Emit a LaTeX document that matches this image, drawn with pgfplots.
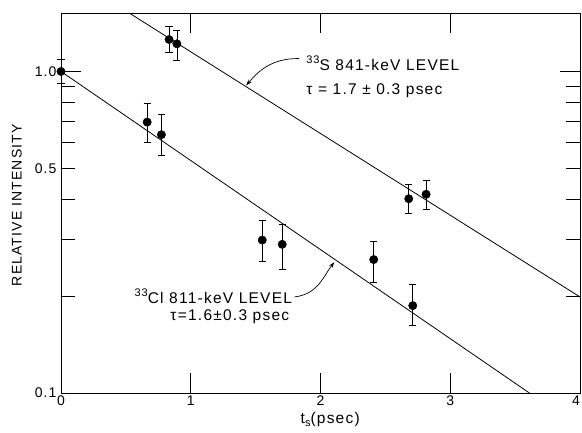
\documentclass[border=0pt]{standalone}
\usepackage{pgfplots}
\pgfplotsset{compat=1.18}
\usepackage{fontspec}
\setmainfont{Liberation Sans}[LetterSpace=8]
\usetikzlibrary{arrows.meta}
\newcommand\lbl{\fontsize{14bp}{16bp}\selectfont}
\newcommand\ann{\fontsize{15.5bp}{17bp}\selectfont}
\newcommand\supsz{\fontsize{11bp}{12bp}\selectfont}
\begin{document}
\begin{tikzpicture}
\begin{axis}[
  width=519bp, height=380bp, scale only axis,
  xmin=0, xmax=4, ymin=0.1, ymax=1.52, ymode=log,
  xtick={0,1,2,3,4}, xticklabels={0,1,2,3,{\makebox[0pt][r]{4}}},
  ytick={0.1,1}, yticklabels={0.1,1.0},
  extra y ticks={0.5}, extra y tick labels={0.5},
  extra y tick style={major tick length=14bp},
  minor ytick={0.2,0.3,0.4,0.6,0.7,0.8,0.9},
  minor tick length=14bp, major tick length=20bp,
  tick align=inside,
  tick style={black, line width=0.8pt},
  axis line style={line width=1pt},
  /pgf/number format/assume math mode=true,
  tick label style={font=\lbl},
  yticklabel style={xshift=-1bp},
  xticklabel style={yshift=1bp},
  clip=false,
]
\coordinate (sw) at (rel axis cs:0,0);
\coordinate (ne) at (rel axis cs:1,1);
% fitted lines
\addplot[black, line width=0.8pt] coordinates {(0.532,1.514) (4,0.199)};
\addplot[black, line width=0.8pt] coordinates {(0,1.0) (3.61,0.1)};
% 33S data
\addplot[only marks, mark=*, mark size=4.2bp, black,
  error bars/.cd, y dir=both, y explicit,
  error bar style={line width=0.7pt},
  error mark options={rotate=90, mark size=3.6bp, line width=0.7pt}]
coordinates {
 (0.833,1.257) += (0,0.125) -= (0,0.114)
 (0.893,1.219) += (0,0.128) -= (0,0.137)
 (2.68,0.402) += (0,0.043) -= (0,0.039)
 (2.814,0.415) += (0,0.044) -= (0,0.043)
};
% 33Cl data
\addplot[only marks, mark=*, mark size=4.2bp, black,
  error bars/.cd, y dir=both, y explicit,
  error bar style={line width=0.7pt},
  error mark options={rotate=90, mark size=3.6bp, line width=0.7pt}]
coordinates {
 (0,1.0) += (0,0.087) -= (0,0.082)
 (0.664,0.696) += (0,0.098) -= (0,0.093)
 (0.774,0.636) += (0,0.098) -= (0,0.088)
 (1.551,0.299) += (0,0.046) -= (0,0.043)
 (1.705,0.290) += (0,0.045) -= (0,0.047)
 (2.41,0.260) += (0,0.037) -= (0,0.039)
 (2.711,0.187) += (0,0.030) -= (0,0.025)
};
% annotations
\node[anchor=base west, inner sep=0pt, font=\ann] at (axis cs:1.89,1.007) {\raisebox{6.5bp}{\supsz 33}S 841-keV LEVEL};
\node[anchor=base west, inner sep=0pt, font=\ann] at (axis cs:1.89,0.848) {τ = 1.7 ± 0.3 psec};
\draw[line width=0.7pt, -{Stealth[length=6bp,width=4bp]}] (axis cs:1.836,1.097) .. controls (axis cs:1.62,1.10) and (axis cs:1.52,1.0) .. (axis cs:1.427,0.905);
\node[anchor=base east, inner sep=0pt, font=\ann] at (axis cs:1.782,0.19) {\raisebox{6.5bp}{\supsz 33}Cl 811-keV LEVEL};
\node[anchor=base east, inner sep=0pt, font=\ann] at (axis cs:1.76,0.1686) {τ=1.6±0.3 psec};
\draw[line width=0.7pt, -{Stealth[length=6bp,width=4bp]}] (axis cs:1.80,0.199) .. controls (axis cs:1.98,0.203) and (axis cs:2.02,0.23) .. (axis cs:2.106,0.2552);
% axis labels
\node[rotate=90, anchor=center, font=\lbl] at (axis cs:-0.34,0.3837) {RELATIVE INTENSITY};
\node[anchor=base, font=\ann, inner sep=0pt] at (axis cs:2.075,0.1) [yshift=-30bp] {t\raisebox{-3bp}{\supsz s}(psec)};
\end{axis}
\pgfresetboundingbox
\path[use as bounding box] ([shift={(-61bp,-39bp)}]sw) rectangle ([shift={(2bp,13bp)}]ne);
\end{tikzpicture}
\end{document}
